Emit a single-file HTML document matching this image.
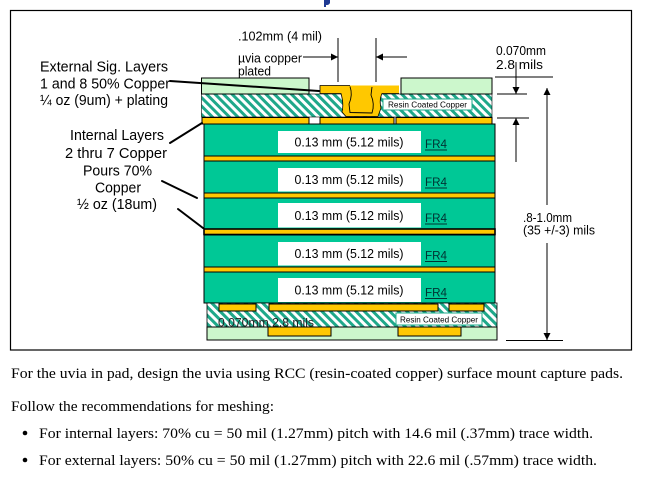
<!DOCTYPE html>
<html>
<head>
<meta charset="utf-8">
<style>
  html,body{margin:0;padding:0;background:#fff;}
  body{width:662px;height:482px;overflow:hidden;}
  svg{display:block;}
  .sans{font-family:"Liberation Sans",Arial,sans-serif;}
  .serif{font-family:"Liberation Serif","Times New Roman",serif;}
</style>
</head>
<body>
<svg width="662" height="482" viewBox="0 0 662 482" xmlns="http://www.w3.org/2000/svg">
  <defs>
    <pattern id="hatch" patternUnits="userSpaceOnUse" width="6" height="6" patternTransform="rotate(-45)">
      <rect width="6" height="6" fill="#ffffff"/>
      <rect x="0" y="0" width="3" height="6" fill="#1fa88a"/>
    </pattern>
    <marker id="ah" viewBox="0 0 10 10" refX="10" refY="5" markerWidth="7" markerHeight="7" orient="auto-start-reverse" markerUnits="userSpaceOnUse">
      <path d="M0,0 L10,5 L0,10 z" fill="#000"/>
    </marker>
  </defs>

  <!-- title remnant -->
  <path d="M324,0 h6 v3 q-1,2 -3,2 h-1 v2 h-2 z" fill="#1f3a93"/>

  <!-- frame -->
  <rect x="10.5" y="10.5" width="621" height="339.5" fill="none" stroke="#000" stroke-width="1.2"/>

  <!-- ===== TOP STRUCTURE ===== -->
  <rect x="201.5" y="94" width="290.5" height="23" fill="url(#hatch)" stroke="#000" stroke-width="0.6"/>
  <rect x="201.5" y="78" width="107.5" height="16" fill="#ccf7cc" stroke="#000" stroke-width="1"/>
  <rect x="401" y="78" width="91" height="16" fill="#ccf7cc" stroke="#000" stroke-width="1"/>
  <rect x="383" y="99" width="89" height="11" fill="#fff" stroke="#1fa88a" stroke-width="1"/>
  <text x="427.5" y="107.7" class="sans" font-size="8.3" text-anchor="middle" textLength="79" lengthAdjust="spacingAndGlyphs">Resin Coated Copper</text>
  <rect x="202" y="117.5" width="107" height="6.5" fill="#ffc800" stroke="#000" stroke-width="1"/>
  <rect x="320" y="117.5" width="74" height="6.5" fill="#ffc800" stroke="#000" stroke-width="1"/>
  <rect x="396" y="117.5" width="96" height="6.5" fill="#ffc800" stroke="#000" stroke-width="1"/>

  <!-- via pad + barrel -->
  <path d="M320,85.5 H399 V93.5 H382 Q379,100 381,108 L378,116.5 H346 L342,112 Q344,104 341,93.5 H320 Z" fill="#ffc800"/>
  <path d="M399,93.5 H382 Q379,100 381,108 L378,116.5 H346 L342,112 Q344,104 341,93.5 H320 V85.5 H350" fill="none" stroke="#000" stroke-width="0.8"/>
  <path d="M350,86.5 Q353,95 349,104 L350,112.5 L372,113 Q375,104 371,95 L372,87" fill="none" stroke="#000" stroke-width="0.9"/>

  <!-- ===== FR4 STACK ===== -->
  <rect x="204" y="124" width="291" height="32" fill="#00c896" stroke="#000" stroke-width="1"/>
  <rect x="204" y="156" width="291" height="5" fill="#ffc800" stroke="#000" stroke-width="1"/>
  <rect x="204" y="161" width="291" height="32" fill="#00c896" stroke="#000" stroke-width="1"/>
  <rect x="204" y="193" width="291" height="5" fill="#ffc800" stroke="#000" stroke-width="1"/>
  <rect x="204" y="198" width="291" height="31" fill="#00c896" stroke="#000" stroke-width="1"/>
  <rect x="204" y="229" width="291" height="5.5" fill="#ffc800" stroke="#000" stroke-width="1.6"/>
  <rect x="204" y="235" width="291" height="32" fill="#00c896" stroke="#000" stroke-width="1"/>
  <rect x="204" y="267" width="291" height="5" fill="#ffc800" stroke="#000" stroke-width="1"/>
  <rect x="204" y="272" width="291" height="31" fill="#00c896" stroke="#000" stroke-width="1"/>

  <!-- white labels -->
  <g class="sans" font-size="12.5">
    <rect x="278" y="131" width="143" height="22" fill="#fff"/>
    <text x="349" y="146.5" text-anchor="middle" textLength="109" lengthAdjust="spacingAndGlyphs">0.13 mm (5.12 mils)</text>
    <rect x="278" y="168" width="143" height="23.5" fill="#fff"/>
    <text x="349" y="184" text-anchor="middle" textLength="109" lengthAdjust="spacingAndGlyphs">0.13 mm (5.12 mils)</text>
    <rect x="278" y="203" width="143" height="24.5" fill="#fff"/>
    <text x="349" y="220" text-anchor="middle" textLength="109" lengthAdjust="spacingAndGlyphs">0.13 mm (5.12 mils)</text>
    <rect x="278" y="242" width="143" height="23.5" fill="#fff"/>
    <text x="349" y="258" text-anchor="middle" textLength="109" lengthAdjust="spacingAndGlyphs">0.13 mm (5.12 mils)</text>
    <rect x="278" y="278" width="143" height="24" fill="#fff"/>
    <text x="349" y="294.5" text-anchor="middle" textLength="109" lengthAdjust="spacingAndGlyphs">0.13 mm (5.12 mils)</text>
  </g>
  <g class="sans" font-size="12" fill="#003333">
    <text x="425" y="148" textLength="22" lengthAdjust="spacingAndGlyphs">FR4</text>
    <rect x="425" y="149.5" width="22" height="1" fill="#003333"/>
    <text x="425" y="186" textLength="22" lengthAdjust="spacingAndGlyphs">FR4</text>
    <rect x="425" y="187.5" width="22" height="1" fill="#003333"/>
    <text x="425" y="222" textLength="22" lengthAdjust="spacingAndGlyphs">FR4</text>
    <rect x="425" y="223.5" width="22" height="1" fill="#003333"/>
    <text x="425" y="259.5" textLength="22" lengthAdjust="spacingAndGlyphs">FR4</text>
    <rect x="425" y="261" width="22" height="1" fill="#003333"/>
    <text x="425" y="296.5" textLength="22" lengthAdjust="spacingAndGlyphs">FR4</text>
    <rect x="425" y="298" width="22" height="1" fill="#003333"/>
  </g>

  <!-- ===== BOTTOM STRUCTURE ===== -->
  <rect x="207" y="303" width="290" height="24" fill="url(#hatch)" stroke="#000" stroke-width="0.8"/>
  <rect x="219" y="304" width="37" height="7" fill="#ffc800" stroke="#000" stroke-width="1"/>
  <rect x="269" y="304" width="169" height="7" fill="#ffc800" stroke="#000" stroke-width="1"/>
  <rect x="449" y="304" width="35" height="7" fill="#ffc800" stroke="#000" stroke-width="1"/>
  <rect x="396" y="313" width="86" height="12" fill="#fff" stroke="#1fa88a" stroke-width="1"/>
  <text x="439" y="322.3" class="sans" font-size="8.3" text-anchor="middle" textLength="78" lengthAdjust="spacingAndGlyphs">Resin Coated Copper</text>
  <text x="218" y="326.5" class="sans" font-size="12" fill="#222" textLength="96" lengthAdjust="spacingAndGlyphs">0.070mm 2.8 mils</text>
  <rect x="207" y="327" width="290" height="13" fill="#ccf7cc" stroke="#000" stroke-width="1"/>
  <rect x="268" y="327" width="63" height="9" fill="#ffc800" stroke="#000" stroke-width="1"/>
  <rect x="398" y="327" width="63" height="9" fill="#ffc800" stroke="#000" stroke-width="1"/>

  <!-- ===== LEFT LABELS ===== -->
  <g class="sans" font-size="14.3" text-anchor="middle" fill="#000">
    <text x="104" y="71.5" textLength="128" lengthAdjust="spacingAndGlyphs">External Sig. Layers</text>
    <text x="105" y="88.5" textLength="130" lengthAdjust="spacingAndGlyphs">1 and 8 50% Copper</text>
    <text x="104" y="105" textLength="128" lengthAdjust="spacingAndGlyphs">¼ oz (9um) + plating</text>
    <text x="117" y="140" textLength="94" lengthAdjust="spacingAndGlyphs">Internal Layers</text>
    <text x="116" y="158" textLength="102" lengthAdjust="spacingAndGlyphs">2 thru 7 Copper</text>
    <text x="117.5" y="175.5" textLength="69" lengthAdjust="spacingAndGlyphs">Pours 70%</text>
    <text x="118" y="192.5" textLength="46" lengthAdjust="spacingAndGlyphs">Copper</text>
    <text x="117" y="209" textLength="80" lengthAdjust="spacingAndGlyphs">½ oz (18um)</text>
  </g>
  <g stroke="#000" stroke-width="2" stroke-linecap="round">
    <line x1="170" y1="81" x2="319" y2="91"/>
    <line x1="170" y1="143" x2="202" y2="123"/>
    <line x1="162" y1="181" x2="197" y2="198"/>
    <line x1="178" y1="209" x2="203" y2="228"/>
  </g>

  <!-- ===== DIMENSIONS ===== -->
  <g class="sans" font-size="12.5" fill="#000">
    <text x="238" y="40.5" textLength="84" lengthAdjust="spacingAndGlyphs">.102mm (4 mil)</text>
    <text x="238" y="62.5" textLength="64" lengthAdjust="spacingAndGlyphs">µvia copper</text>
    <text x="238" y="75.5" textLength="33" lengthAdjust="spacingAndGlyphs">plated</text>
    <text x="496" y="55" textLength="50" lengthAdjust="spacingAndGlyphs">0.070mm</text>
    <text x="496" y="69" textLength="47" lengthAdjust="spacingAndGlyphs">2.8 mils</text>
    <text x="523" y="222" textLength="49" lengthAdjust="spacingAndGlyphs">.8-1.0mm</text>
    <text x="523" y="234.5" textLength="72" lengthAdjust="spacingAndGlyphs">(35 +/-3) mils</text>
  </g>
  <g stroke="#000" stroke-width="1" fill="none">
    <line x1="338" y1="38" x2="338" y2="82"/>
    <line x1="376" y1="38" x2="376" y2="82"/>
    <line x1="303" y1="57" x2="338" y2="57" marker-end="url(#ah)"/>
    <line x1="407" y1="57" x2="376" y2="57" marker-end="url(#ah)"/>

    <line x1="495" y1="77" x2="553" y2="77"/>
    <line x1="497" y1="94" x2="527" y2="94"/>
    <line x1="497" y1="118" x2="529" y2="118"/>
    <line x1="516" y1="62" x2="516" y2="94" marker-end="url(#ah)"/>
    <line x1="516" y1="162" x2="516" y2="118" marker-end="url(#ah)"/>

    <line x1="547" y1="205" x2="547" y2="88" marker-end="url(#ah)"/>
    <line x1="547" y1="243" x2="547" y2="340" marker-end="url(#ah)"/>
    <line x1="506" y1="340.5" x2="563" y2="340.5"/>
  </g>

  <!-- ===== BOTTOM TEXT ===== -->
  <g class="serif" font-size="15" fill="#000">
    <text x="11" y="378" textLength="612" lengthAdjust="spacingAndGlyphs">For the uvia in pad, design the uvia using RCC (resin-coated copper) surface mount capture pads.</text>
    <text x="11" y="411" textLength="263" lengthAdjust="spacingAndGlyphs">Follow the recommendations for meshing:</text>
    <circle cx="25" cy="433" r="2.3" fill="#000"/>
    <text x="39" y="438" textLength="554" lengthAdjust="spacingAndGlyphs">For internal layers: 70% cu = 50 mil (1.27mm) pitch with 14.6 mil (.37mm) trace width.</text>
    <circle cx="25" cy="460" r="2.3" fill="#000"/>
    <text x="39" y="465" textLength="558" lengthAdjust="spacingAndGlyphs">For external layers: 50% cu = 50 mil (1.27mm) pitch with 22.6 mil (.57mm) trace width.</text>
  </g>
</svg>
</body>
</html>
